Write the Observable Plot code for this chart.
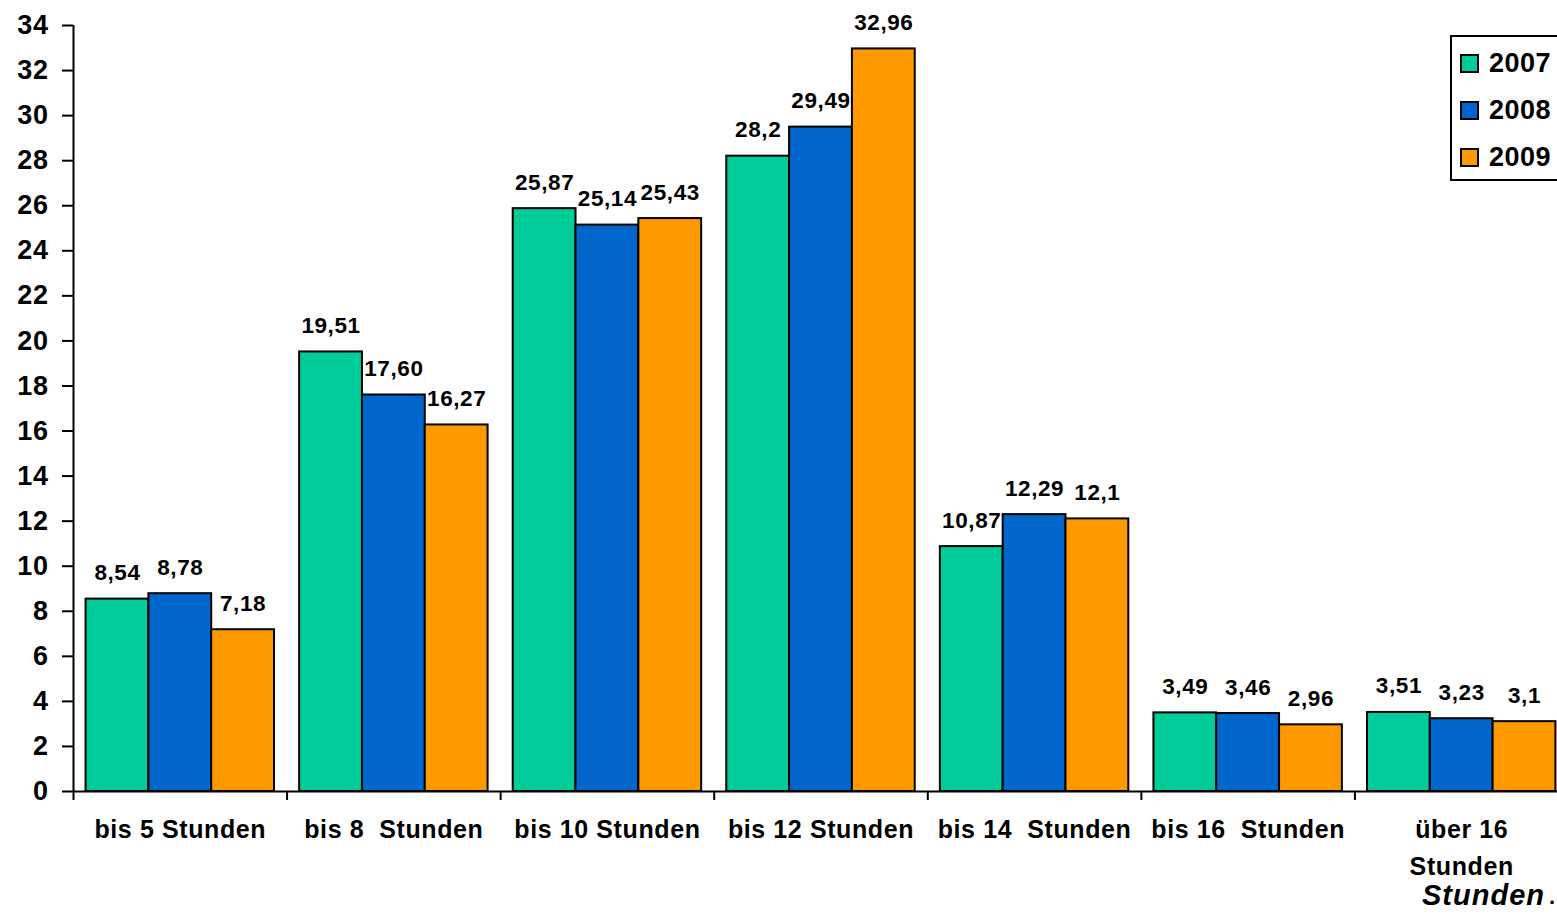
<!DOCTYPE html>
<html>
<head>
<meta charset="utf-8">
<script src="https://cdn.jsdelivr.net/npm/d3@7"></script>
<script src="https://cdn.jsdelivr.net/npm/@observablehq/plot@0.6"></script>
<style>
  html, body { margin: 0; padding: 0; background: #fff; overflow: hidden; }
  #wrap { position: relative; width: 1557px; height: 915px; overflow: hidden; background: #fff;
          font-family: "Liberation Sans", Arial, sans-serif; font-weight: bold; color: #000; }
  #wrap svg { max-width: none !important; display: block; }
  #legend { position: absolute; left: 1450px; top: 35px; width: 160px; height: 146px;
            border: 2px solid #000; background: #fff; box-sizing: border-box; }
  .lrow { position: absolute; left: 8px; height: 30px; display: flex; align-items: center;
          font-size: 27px; letter-spacing: 0.5px; }
  .sw { width: 19px; height: 19px; border: 2px solid #000; box-sizing: border-box; margin-right: 10px; }
  #xtitle { position: absolute; left: 1422px; top: 880px; font-size: 29px; font-style: italic;
            font-weight: bold; line-height: 30px; letter-spacing: 1px; white-space: pre; }
  #xdot { position: absolute; left: 1549px; top: 886px; font-size: 22px; font-weight: bold;
          line-height: 22px; }
</style>
</head>
<body>
<div id="wrap">
  <div id="chart"></div>
  <div id="legend"></div>
  <div id="xtitle"></div>
  <div id="xdot">.</div>
</div>
<script>
// ---- data ----
const categories = ["bis 5 Stunden", "bis 8  Stunden", "bis 10 Stunden", "bis 12 Stunden",
                    "bis 14  Stunden", "bis 16  Stunden", "über 16\nStunden"];
const years = ["2007", "2008", "2009"];
const v2007 = [8.54, 19.51, 25.87, 28.2, 10.87, 3.49, 3.51];
const v2008 = [8.78, 17.60, 25.14, 29.49, 12.29, 3.46, 3.23];
const v2009 = [7.18, 16.27, 25.43, 32.96, 12.1, 2.96, 3.1];
const t2007 = ["8,54", "19,51", "25,87", "28,2", "10,87", "3,49", "3,51"];
const t2008 = ["8,78", "17,60", "25,14", "29,49", "12,29", "3,46", "3,23"];
const t2009 = ["7,18", "16,27", "25,43", "32,96", "12,1", "2,96", "3,1"];
const yTicks = [0, 2, 4, 6, 8, 10, 12, 14, 16, 18, 20, 22, 24, 26, 28, 30, 32, 34];
const axisTitle = "Stunden";
const colors = ["#00CC99", "#0066CC", "#FF9900"];

// ---- build table ----
const series = [v2007, v2008, v2009];
const texts = [t2007, t2008, t2009];
const rows = [];
categories.forEach((c, i) => years.forEach((y, j) =>
  rows.push({cat: c, ci: i, year: y, yi: j, value: series[j][i], label: texts[j][i]})));

const PAD = 0.2;
const GROUP = years.length + 2 * PAD;
const bx1 = d => d.ci + (PAD + d.yi) / GROUP;
const bx2 = d => d.ci + (PAD + d.yi + 1) / GROUP;

const chart = Plot.plot({
  width: 1600,
  height: 915,
  marginLeft: 73,
  marginRight: 32,
  marginTop: 25,
  marginBottom: 124,
  style: {fontFamily: "'Liberation Sans', Arial, sans-serif", fontWeight: "bold", color: "#000",
          background: "#fff", letterSpacing: "0.6px", maxWidth: "none"},
  x: {domain: [0, categories.length], axis: null},
  y: {domain: [0, 34], axis: null},
  color: {domain: years, range: colors},
  marks: [
    Plot.rectY(rows, {x1: bx1, x2: bx2, y1: 0, y2: "value", fill: "year", stroke: "#000", strokeWidth: 2}),
    Plot.axisY({ticks: yTicks, tickSize: 11, tickPadding: 14, fontSize: 27, strokeWidth: 2,
                tickFormat: d => String(d), label: null}),
    Plot.axisX({ticks: d3.range(0, categories.length + 1), tickSize: 9, strokeWidth: 2,
                tickFormat: () => "", label: null}),
    Plot.ruleX([0], {strokeWidth: 2}),
    Plot.ruleY([0], {strokeWidth: 2}),
    Plot.text(rows, {x: d => (bx1(d) + bx2(d)) / 2, y: "value", text: "label",
                     lineAnchor: "bottom", dy: -19, fontSize: 22.5, fontWeight: "bold"}),
    Plot.text(categories, {x: (d, i) => i + 0.5, y: 0, text: d => d, lineAnchor: "top",
                           dy: 20, fontSize: 25, lineHeight: 1.48, fontWeight: "bold"})
  ]
});
document.getElementById("chart").appendChild(chart);

// legend (overlaid on the chart, as in the original)
const legend = document.getElementById("legend");
years.forEach((y, j) => {
  const row = document.createElement("div");
  row.className = "lrow";
  row.style.top = (11 + j * 47) + "px";
  const sw = document.createElement("div");
  sw.className = "sw";
  sw.style.background = colors[j];
  const tx = document.createElement("span");
  tx.textContent = y;
  row.appendChild(sw);
  row.appendChild(tx);
  legend.appendChild(row);
});
document.getElementById("xtitle").textContent = axisTitle;
</script>
</body>
</html>
